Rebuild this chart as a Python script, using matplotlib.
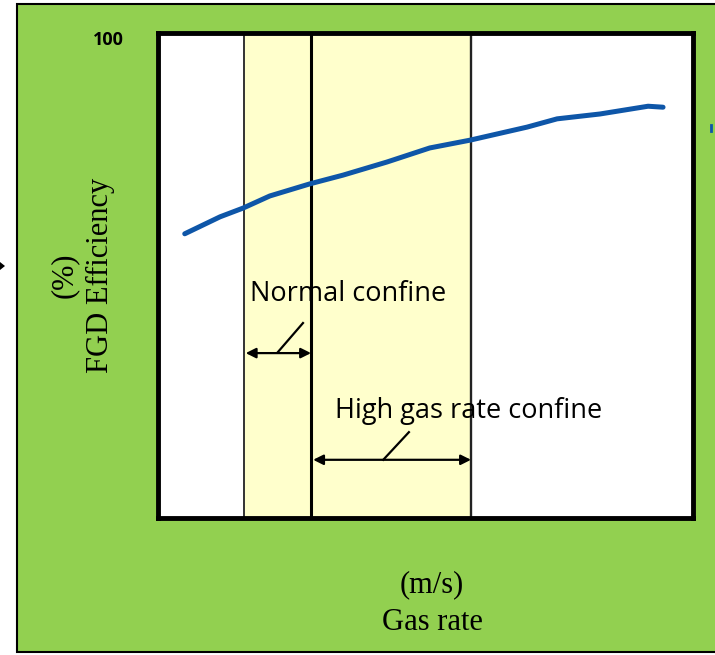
import matplotlib.pyplot as plt
from matplotlib.patches import Rectangle, Polygon
from matplotlib.lines import Line2D

# gas rate (arbitrary units, 0-10 across the plot) and FGD efficiency (%)
gas_rate = [0.50, 1.16, 1.59, 2.09, 2.84, 3.46, 4.28, 5.08, 5.83, 6.90, 7.46, 8.26, 9.16, 9.44]
efficiency = [58.6, 62.1, 63.9, 66.4, 68.9, 70.7, 73.4, 76.3, 77.9, 80.6, 82.3, 83.3, 84.9, 84.7]

# confine band edges on the gas rate axis
normal_band = [1.61, 2.86]
high_band = [2.86, 5.85]

green = '#92D050'
band_color = '#FFFFCC'
line_color = '#0E56A8'

W, H = 715, 655
fig = plt.figure(figsize=(W / 100, H / 100), dpi=100, facecolor='white')

# green panel with black outline, running off the right edge
fig.patches.append(Rectangle((17 / W, 3 / H), 1.0, 1 - 7 / H, transform=fig.transFigure,
                             facecolor=green, edgecolor='black', linewidth=1.5, zorder=-5))

ax = fig.add_axes([158 / W, 1 - 518 / H, (693 - 158) / W, (518 - 33) / H])
ax.set_zorder(2)
ax.set_facecolor('white')
ax.set_xlim(0, 10)
ax.set_ylim(0, 100)
ax.set_xticks([])
ax.set_yticks([])
for s in ax.spines.values():
    s.set_linewidth(3.5)
    s.set_color('black')

ax.axvspan(normal_band[0], normal_band[1], color=band_color, zorder=1, lw=0)
ax.axvspan(high_band[0], high_band[1], color=band_color, zorder=1, lw=0)
ax.axvline(normal_band[0], color='#333333', lw=1.4, zorder=2)
ax.axvline(normal_band[1], color='black', lw=2.2, zorder=2)
ax.axvline(high_band[1], color='#222222', lw=1.7, zorder=2)

ax.plot(gas_rate, efficiency, color=line_color, lw=3.6, solid_capstyle='round', zorder=3)

# normal confine annotation
ax.annotate('', xy=(normal_band[0] + 0.03, 34.0), xytext=(normal_band[1], 34.0),
            arrowprops=dict(arrowstyle='<|-|>', color='black', lw=1.6,
                            mutation_scale=15, shrinkA=0, shrinkB=0), zorder=4)
ax.plot([2.24, 2.71], [34.2, 40.2], color='black', lw=1.6, zorder=4)
ax.text(1.72, 46.2, 'Normal confine', fontsize=19.5, family='Open Sans',
        ha='left', va='center', zorder=5)

# high gas rate confine annotation
ax.annotate('', xy=(high_band[0] + 0.04, 12.0), xytext=(high_band[1], 12.0),
            arrowprops=dict(arrowstyle='<|-|>', color='black', lw=1.6,
                            mutation_scale=15, shrinkA=0, shrinkB=0), zorder=4)
ax.plot([4.21, 4.69], [12.0, 17.7], color='black', lw=1.6, zorder=4)
ax.text(3.31, 22.1, 'High gas rate confine', fontsize=19.5, family='Open Sans',
        ha='left', va='center', zorder=5)

# axis texts
fig.text(108 / W, 1 - 40 / H, '100', fontsize=13, fontweight='bold', family='Open Sans',
         ha='center', va='center')
fig.text(64 / W, 1 - 275 / H, '(%)', fontsize=22, family='Liberation Serif',
         rotation=90, ha='center', va='center')
fig.text(100 / W, 1 - 275 / H, 'FGD Efficiency', fontsize=22, family='Liberation Serif',
         rotation=90, ha='center', va='center')
fig.text(432 / W, 1 - 585 / H, '(m/s)', fontsize=22, family='Liberation Serif',
         ha='center', va='center')
fig.text(432 / W, 1 - 622 / H, 'Gas rate', fontsize=22, family='Liberation Serif',
         ha='center', va='center')

# stray marks at the edges
fig.patches.append(Polygon([(0 / W, 1 - 262 / H), (5 / W, 1 - 266 / H), (0 / W, 1 - 270 / H)],
                           closed=True, transform=fig.transFigure, facecolor='black',
                           edgecolor='none'))
fig.lines.append(Line2D([711 / W, 711 / W], [1 - 125 / H, 1 - 131 / H], transform=fig.transFigure,
                        color=line_color, lw=2))

fig.savefig('out.png', dpi=100, facecolor=fig.get_facecolor())
